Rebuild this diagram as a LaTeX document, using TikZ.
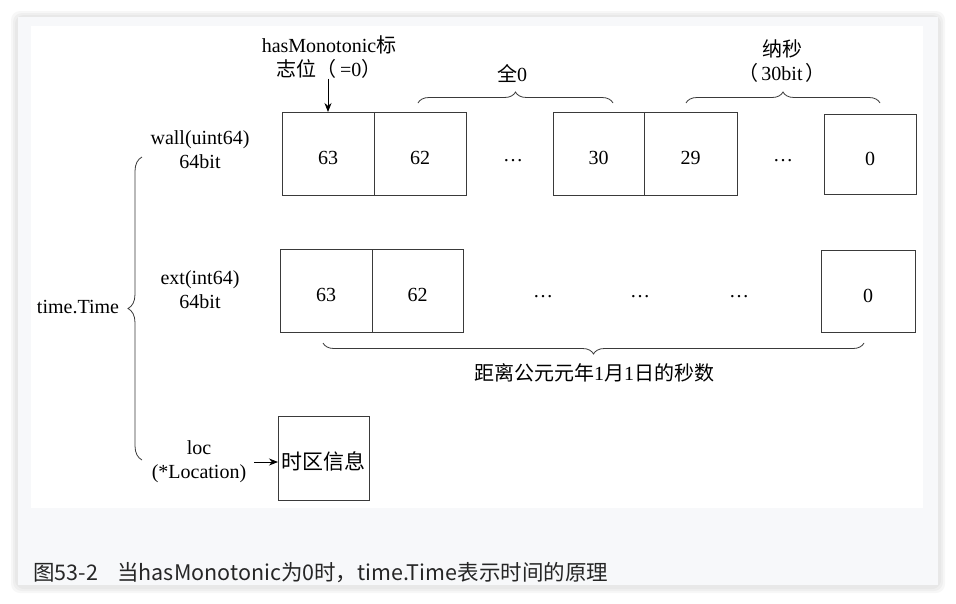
\documentclass[tikz,border=0pt]{standalone}
\usepackage{fontspec}
\setmainfont{Liberation Serif}
\newfontfamily\cjk{Noto Sans CJK SC}
\usetikzlibrary{arrows.meta,positioning,decorations.pathreplacing}
\definecolor{pageCol}{HTML}{F7F8FA}
\definecolor{lineCol}{HTML}{3A3A3A}
\newcommand{\zh}[1]{{\cjk #1}}
\tikzset{
  cell/.style={draw=lineCol, line width=0.8pt, minimum height=83pt, minimum width=92pt,
        inner sep=0pt, outer sep=0pt, text height=22pt, text depth=0pt,
        font=\fontsize{20}{24}\selectfont},
  lbl/.style={align=center, inner sep=0pt, font=\fontsize{20}{24}\selectfont},
  dots/.style={inner sep=0pt, font=\fontsize{20}{24}\selectfont},
  arr/.style={-{Stealth[length=9pt,width=7pt]}, line width=0.8pt},
  brc/.style={decorate, decoration={brace, amplitude=#1}, line width=0.8pt, draw=lineCol},
  brc/.default=11pt,
}
\begin{document}
\begin{tikzpicture}[x=1pt, y=-1pt, node distance=0pt]
  \useasboundingbox (0,0) rectangle (956,603);
  % page with soft shadow
  \foreach \s in {7,5,3}
    \fill[black, opacity=0.03, rounded corners=9pt] (18-\s,17-\s+1) rectangle (938+\s,585+\s+1);
  \fill[pageCol] (18,17) rectangle (938,585);
  \fill[white] (31,26) rectangle (923,508);
  % wall row
  \node[cell] (w63) at (328,153.5) {63};
  \node[cell, right=of w63] (w62) {62};
  \node[cell, minimum width=91pt] (w30) at (598.5,153.5) {30};
  \node[cell, minimum width=93pt, right=of w30] (w29) {29};
  \node[cell, minimum height=80pt] (w0) at (870,154) {0};
  \node[dots] (wd1) at (513,161) {\ldots};
  \node[dots] (wd2) at (783,161) {\ldots};
  % ext row
  \node[cell] (e63) at (326,290.5) {63};
  \node[cell, minimum width=91pt, right=of e63] (e62) {62};
  \node[cell, minimum width=94pt, minimum height=82pt] (e0) at (868,291) {0};
  \node[dots] (ed1) at (543,297) {\ldots};
  \node[dots] (ed2) at (640,297) {\ldots};
  \node[dots] (ed3) at (739,297) {\ldots};
  % loc
  \node[cell, minimum width=91pt, minimum height=84pt, font=\cjk\fontsize{21}{24}\selectfont] (tz)
    at (323.5,458) {时区信息};
  % field labels
  \node[lbl] (wall) at (200,150) {wall(uint64)\\64bit};
  \node[lbl] (ext)  at (200,290) {ext(int64)\\64bit};
  \node[lbl] (loc)  at (199,462) {loc\\(*Location)};
  \node[lbl] (tt)   at (78,307) {time.Time};
  \node[lbl] (has)  at (329,57) {hasMonotonic\zh{标}\\\zh{志位（}\,=0\zh{）}};
  \node[lbl] (all0) at (512,74) {\zh{全}0};
  \node[lbl] (ns)   at (782,61) {\zh{纳秒}\\\zh{（}\,30bit\,\zh{）}};
  \node[lbl] (secs) at (594,373) {\zh{距离公元元年}1\zh{月}1\zh{日的秒数}};
  % braces
  \draw[brc] (418,103) -- (613,103);
  \draw[brc] (686,103) -- (880,103);
  \draw[brc] (864,343) -- (323,343);
  \draw[brc=14pt] (142,460) -- (142,157);
  % arrows
  \draw[arr] (w63.north |- has.south) -- (w63.north);
  \draw[arr] ([xshift=8pt]loc.east) -- (loc.east -| tz.west);
  % caption
  \node[anchor=west, inner sep=0pt, text=black!85, font=\cjk\fontsize{21.5}{24}\selectfont] (cap)
    at (33,573) {图53-2\hspace{0.9em}当hasMonotonic为0时，time.Time表示时间的原理};
\end{tikzpicture}
\end{document}
